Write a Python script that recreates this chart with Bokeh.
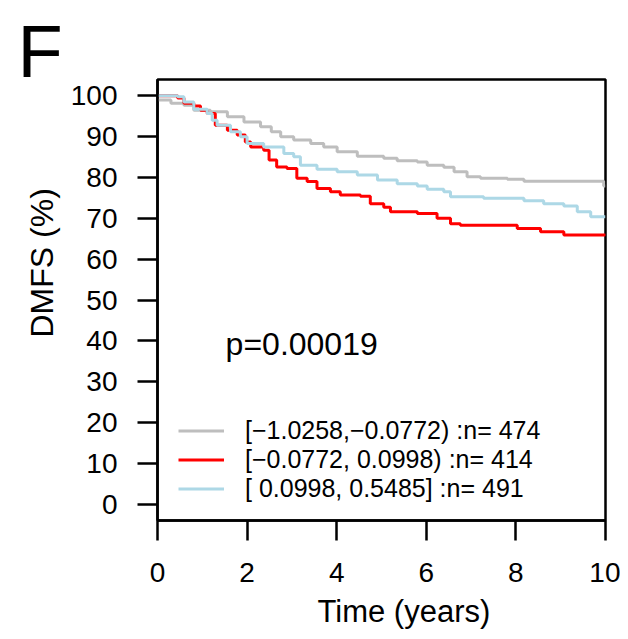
from bokeh.plotting import figure
from bokeh.models import Range1d, FixedTicker, Label, Legend, LegendItem, Title
from bokeh.embed import file_html
from bokeh.resources import INLINE

# ---- data ----
x_ticks = [0, 2, 4, 6, 8, 10]
y_ticks = [0, 10, 20, 30, 40, 50, 60, 70, 80, 90, 100]

gray_t = [0, 0.30, 0.59, 0.81, 1.18, 1.56, 1.93, 2.30, 2.54, 2.75, 3.04, 3.42, 3.71, 4.01,
          4.46, 5.05, 5.35, 5.80, 6.02, 6.39, 6.62, 6.91, 7.21, 7.81, 8.18, 9.96, 10.0]
gray_s = [99.0, 98.2, 97.7, 96.5, 96.1, 94.9, 93.6, 92.4, 91.2, 90.0, 89.2, 88.3, 87.5, 86.3,
          85.2, 84.7, 84.1, 83.8, 83.0, 82.5, 81.4, 80.2, 79.8, 79.6, 79.1, 77.9, 77.9]

red_t = [0, 0.45, 0.59, 0.81, 0.96, 1.11, 1.29, 1.56, 1.78, 1.96, 2.08, 2.37, 2.49, 2.66,
         2.89, 3.11, 3.34, 3.56, 3.86, 4.08, 4.53, 4.75, 5.05, 5.20, 5.80, 6.24, 6.54, 6.76,
         7.88, 8.03, 8.55, 9.07, 10.0]
red_s = [100, 99.5, 98.2, 97.5, 96.5, 95.7, 92.8, 91.6, 90.4, 88.7, 87.5, 86.7, 84.3, 82.6,
         82.2, 79.8, 79.0, 77.3, 76.5, 75.7, 75.4, 73.6, 72.7, 71.6, 71.2, 70.0, 68.7, 68.3,
         68.3, 67.5, 66.7, 65.9, 65.7]

blue_t = [0, 0.45, 0.59, 0.81, 1.11, 1.22, 1.33, 1.63, 1.85, 2.00, 2.37, 2.82, 3.04, 3.19,
          3.56, 4.01, 4.46, 4.91, 5.35, 5.80, 6.02, 6.39, 6.54, 7.28, 8.18, 8.62, 9.07, 9.37,
          9.67, 10.0]
blue_s = [100, 99.8, 98.5, 96.7, 95.7, 94.0, 92.8, 91.2, 90.0, 88.3, 87.5, 85.9, 85.1, 83.0,
          82.0, 81.4, 80.6, 79.4, 78.5, 77.9, 77.1, 76.5, 75.3, 74.9, 74.3, 73.6, 73.0, 71.6,
          70.4, 70.4]

series_labels = ["[\u22121.0258,\u22120.0772) :n= 474",
                 "[\u22120.0772, 0.0998) :n= 414",
                 "[ 0.0998, 0.5485] :n= 491"]
series_colors = ["#BEBEBE", "#FF0000", "#ADD8E6"]

p_text = "p=0.00019"
x_title = "Time (years)"
y_title = "DMFS (%)"
panel_letter = "F"

FONT = "Liberation Sans"

p = figure(width=620, height=639, output_backend="svg", toolbar_location=None,
           x_range=Range1d(0, 10), y_range=Range1d(-4, 104),
           min_border_left=157, min_border_right=15, min_border_top=79, min_border_bottom=119)
p.background_fill_color = "white"
p.border_fill_color = "white"
p.outline_line_color = "black"
p.outline_line_width = 2.5
p.xgrid.visible = False
p.ygrid.visible = False

for ax, ticks in ((p.xaxis[0], x_ticks), (p.yaxis[0], y_ticks)):
    ax.ticker = FixedTicker(ticks=ticks)
    ax.minor_tick_line_color = None
    ax.major_tick_in = 0
    ax.major_tick_out = 20
    ax.major_tick_line_width = 2.5
    ax.axis_line_width = 2.5
    ax.major_label_text_font = FONT
    ax.major_label_text_font_size = "28px"
    ax.major_label_text_color = "black"
    ax.major_label_standoff = 20
p.xaxis[0].major_label_standoff = 22

renderers = []
for t, s, c in ((gray_t, gray_s, series_colors[0]), (red_t, red_s, series_colors[1]),
                (blue_t, blue_s, series_colors[2])):
    r = p.step(t, s, mode="after", line_color=c, line_width=3)
    renderers.append(r)

legend = Legend(items=[LegendItem(label=l, renderers=[r]) for l, r in zip(series_labels, renderers)],
                location=(21, 17), padding=0, margin=0, spacing=0,
                glyph_width=46, glyph_height=29, label_standoff=21,
                label_text_font=FONT, label_text_font_size="25px", label_height=29,
                label_text_color="black",
                border_line_color=None, background_fill_alpha=0)
p.add_layout(legend, "center")

p.add_layout(Label(x=1.52, y=39.2, text=p_text, text_font=FONT, text_font_size="32px",
                   text_color="black", text_baseline="alphabetic", text_align="left"))

# titles placed in the side panels (annotations in the frame are clipped)
p.add_layout(Title(text=x_title, align="left", offset=160, vertical_align="top", standoff=18,
                   text_font=FONT, text_font_size="31px", text_font_style="normal",
                   text_color="black"), "below")
p.add_layout(Title(text=y_title, align="left", offset=183, vertical_align="bottom", standoff=16,
                   text_font=FONT, text_font_size="32px", text_font_style="normal",
                   text_color="black"), "left")
p.add_layout(Title(text=panel_letter, align="left", offset=-140, vertical_align="bottom", standoff=-26,
                   text_font=FONT, text_font_size="74px", text_font_style="normal",
                   text_color="black"), "above")

open("out.html", "w").write(file_html(p, INLINE))
